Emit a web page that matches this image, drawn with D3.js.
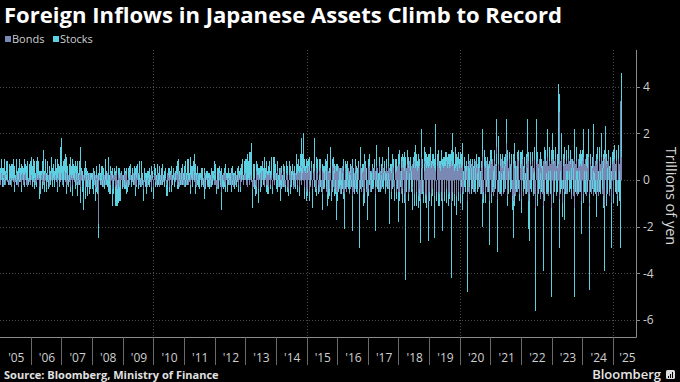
<!DOCTYPE html>
<html><head><meta charset="utf-8">
<script src="https://cdn.jsdelivr.net/npm/d3@7"></script>
<style>html,body{margin:0;padding:0;background:#000;} svg{display:block;}</style>
</head><body><svg id="c" width="680" height="382"></svg>
<script>
const seriesKeys = ["bonds", "stocks"];
const seriesNames = ["Bonds", "Stocks"];
const seriesColors = ["#7a89b4", "#5ccfe0"];
const firstYear = 2005;
// weekly net foreign purchases, trillions of yen, one inner array per calendar year
const bonds = [
/*2005*/[.1,-.2,.3,.1,-.1,.2,-.3,.2,.1,-.2,.3,0,-.1, .2,-.1,.3,-.2,.1,.2,-.3,.1,.3,-.1,.2,-.2,.1, -.1,.3,.2,-.2,.1,-.3,.2,.3,-.1,.1,-.2,.2,.3, -.2,.1,.2,-.1,.3,-.2,.1,.2,-.3,.1,.2,-.1,.2],
/*2006*/[-.2,.2,.1,-.3,.3,-.1,.2,.1,-.2,.3,-.1,.2,.1, .2,-.3,.1,.3,-.2,.2,-.1,.3,.1,-.2,.2,-.1,.3, -.2,.1,.3,-.1,.2,-.3,.1,.2,-.2,.3,.1,-.1,.2, .1,-.2,.3,.2,-.1,.2,-.3,.1,.3,-.2,.2,.1,-.1],
/*2007*/[.3,-.2,.2,.1,-.3,.4,-.1,.2,-.2,.3,.1,-.2,.2, -.1,.3,.2,-.3,.1,.2,-.2,.3,.1,-.1,.2,.3,-.2, .2,-.1,.3,-.2,.1,.2,.4,-.3,.2,.1,-.3,-.2,.2, .1,-.3,.2,.3,-.2,.1,.2,-.3,.1,.3,-.2,.2,.1],
/*2008*/[.2,-.3,.1,.3,-.2,-.4,.2,.1,-.3,.2,-.2,-1.9,.3, .2,-.1,.3,-.2,.2,.3,-.3,.1,.2,-.2,.3,.1,-.2, .3,-.2,.2,-.3,.1,.3,-.2,.2,-.4,.1,.2,-.3,.2, -.3,.2,-.2,.3,-.4,.1,.2,-.3,.1,.3,-.2,.2,.1],
/*2009*/[.2,-.3,.1,.2,-.2,.3,-.1,.2,-.3,.1,.2,-.2,.1, .3,-.2,.1,-.1,.2,.3,-.2,.1,-.3,.2,.1,-.2,.3, -.1,.2,.3,-.2,.1,-.3,.2,.1,-.2,-.4,.3,-.1,.2, .1,-.2,.3,-.3,.2,.1,-.2,.3,-.1,.2,-.3,.1,.2],
/*2010*/[-.3,.2,.3,-.1,.2,-.2,.1,.3,-.2,.2,.1,-.3,.2, .1,-.2,.3,.2,-.1,.2,-.3,.1,.2,-.2,.3,-.1,.2, .2,-.3,.1,.2,-.2,.3,-.1,.2,.1,-.2,.3,.2,-.1, .3,-.2,.2,.4,-.1,.2,-.3,.3,.1,-.2,.2,.3,-.2],
/*2011*/[.2,-.3,.1,.3,-.2,.2,.1,-.2,.3,-.1,.2,-.2,.1, .3,-.2,.2,.4,-.1,.3,-.2,.2,-.3,.1,.2,-.1,.3, -.2,.2,.1,-.3,.2,.3,-.2,.1,-.3,.2,.3,-.2,.1, .2,-.3,.3,.1,-.2,.2,-.3,.2,.1,-.2,.3,.1,-.2],
/*2012*/[.3,-.2,.2,-.3,-.4,.2,.1,-.2,.3,.2,-.3,-.5,.2, .1,-.2,.3,.2,-.1,.3,-.2,.1,.2,-.3,.2,.1,-.2, .2,-.1,.3,-.2,.2,.1,-.3,.2,.3,-.2,.1,.2,-.1, .3,-.2,.2,.1,-.3,.2,.3,-.1,.2,.3,-.2,.3,.2],
/*2013*/[.3,-.2,.4,.2,-.3,.1,.3,-.2,.2,.4,-.1,.3,-.4, .2,-.3,.3,.1,-.2,.4,-.3,.2,.3,-.4,.2,.1,-.3, .3,-.2,.2,.4,-.1,.3,-.3,.2,.1,-.2,.3,.2,-.2, .2,-.3,.3,.1,-.2,.4,.2,-.3,.1,.3,.2,-.2,.3],
/*2014*/[.3,-.4,.2,.4,-.3,.2,-.2,.5,-.4,.3,.1,-.3,.4, .2,-.3,.4,-.2,.3,.5,-.3,.2,-.4,.3,.2,-.2,.4, -.3,.3,.2,-.4,.4,.2,-.3,.3,.5,.2,-.2,.3,.4, .3,-.3,.5,.4,-.2,.6,.3,.7,.5,-.3,.4,.3,-.5],
/*2015*/[.5,-.4,.3,.6,-.5,.4,.2,-.3,.5,-.4,-.5,.3,.4, .6,.4,-.3,.5,-.4,.3,.6,-.2,.4,-.5,.3,.5,-.3, .4,-.6,.5,.3,-.4,.6,.4,-.5,.3,.5,-.6,.4,.3, -.4,.5,.3,-.5,.6,.4,-.3,.5,-.4,.3,.6,-.5,.4],
/*2016*/[-.5,.4,.6,-.4,.5,-.6,.3,.5,-.4,.6,.4,-.5,-.6, .5,.3,-.5,.6,.4,-.3,.5,-.6,.4,.3,-.4,.6,-.7, .5,.4,-.5,.3,.6,-.4,.5,.3,-.6,.4,.5,-.4,-.8, .6,.4,-.5,.5,.3,-.6,.4,.7,-.4,.5,.3,-.5,-.5],
/*2017*/[.5,-.4,.6,.3,-.5,.4,-.3,.5,.6,-.4,.3,.5,-.6, .4,.6,-.3,.5,-.4,.3,.6,-.5,.4,.3,-.4,.5,.6, -.4,.5,.3,-.6,.4,.5,-.3,.4,.6,-.4,.5,-.5,.4, .3,-.5,.6,.4,-.3,.5,-.4,.6,.3,-.5,.4,.6,-.5],
/*2018*/[.6,-.5,.7,.4,-.6,.5,-.4,.8,.5,-.6,.4,-1.0,.6, .5,-.4,.7,-.6,.5,.8,-.5,.4,.6,-.5,.7,-.4,.5, .8,-.6,.5,.7,-.5,.6,.4,-.7,.5,.6,-.4,-.8,1.0, -.6,.7,.5,-.5,.8,.4,-.6,.7,.5,-.7,.6,-.9,.5],
/*2019*/[.6,-.5,.8,.5,-.6,.7,-.4,.6,.5,-.7,.4,.9,-.5, .6,.7,-.5,.8,.5,-.6,.4,.7,-.5,.6,-.8,.5,.6, -.5,.7,.6,-.4,.8,.5,-.6,.7,.5,-.5,.6,-1.0,.8, .6,-.5,.7,.4,-.6,.8,.5,-.7,.6,.4,-.5,.7,.5],
/*2020*/[.7,-.6,.5,.8,.6,-.5,-.6,.5,.7,-.5,.6,.4,-.9, .6,.7,-.5,.8,-.6,.5,.7,-.4,.6,.8,-.5,.6,.5, -.6,.8,.5,-.5,.7,.6,-.4,.8,.5,-.6,.7,.5,-.8, 1.0,-.5,.6,.7,-.6,.5,.8,-.5,.6,.7,-.4,.5,-.9],
/*2021*/[.8,-.6,.7,.9,-.7,.6,.8,-.5,.7,.6,1.4,-.8,-1.0, .7,.9,-.6,.8,.6,-.7,.9,.5,-.6,.8,.7,-.5,.9, .6,1.6,-.7,.8,.5,-.6,.9,.7,-.5,.8,.6,-.7,-.9, .7,-.6,.5,.8,-.7,.6,.9,-.5,.7,.8,-.6,.7,.5],
/*2022*/[.7,-.8,.9,.6,-.7,.8,.5,-.6,.9,.7,-.5,1.0,-.9, .8,-.6,.7,.9,-.5,.6,.8,-.7,.5,.9,-.6,-1.2,.7, 1.1,-.6,.8,.7,-.5,.9,.6,-.8,.7,.5,-.6,.8,-1.1, .9,-.5,.7,.8,-.6,.9,1.0,-.7,.6,.8,-.5,.7,-1.2],
/*2023*/[.8,.9,-.6,.7,.8,-.5,.9,.6,-.7,.8,.5,.7,-.8, 2.9,.8,-.6,.9,.7,-1.0,.6,.8,-.5,.9,.7,-.6,.8, .7,-.6,.9,.8,-.5,.7,.6,-.8,.9,.5,-.7,.8,-1.2, .9,.7,-.6,.8,.5,-.7,.9,.6,-.5,.8,.7,-.9,.6],
/*2024*/[.8,-.6,1.0,.7,-.5,.9,.6,-.7,.8,.5,1.0,-.6,-1.1, .7,.9,-.6,.8,.5,-.7,1.0,.6,-.5,.8,.7,-.6,.9, .6,-.7,.8,.9,-.5,.7,1.0,-.6,.8,.5,-.7,.9,-1.1, 1.0,-.6,.7,.8,-.5,.9,.6,-.7,.8,.5,-.6,-1.0,.7],
/*2025*/[.8,-.6,.9,.7,-.5,.6,.8,-.7,.9,.6,-.5,.7,.8,3.4,1.0]
];
const stocks = [
/*2005*/[.4,.2,.6,-.3,.5,.3,.1,.7,-.2,.4,.5,.2,.3, .6,-.1,.4,.3,.5,-.2,.7,.2,.4,.9,.3,-.3,.5, .2,.6,-.2,.4,.3,.5,-.1,.6,.2,.4,-.3,.5,.3, .5,.2,.7,-.2,.4,.6,.1,.3,.8,-.2,.5,.4,.6],
/*2006*/[.5,.8,-.3,.6,.4,.9,-.4,.7,.3,.5,-.2,.8,.4, .6,-.5,.3,-.6,.4,.2,-.3,.5,.7,1.3,.2,-.4,.6, .3,-.5,.5,.2,-.4,.6,.3,-.2,.4,.7,-.3,.5,.2, .6,.4,-.3,.7,.5,.2,-.2,.8,.4,.6,-.3,.9,1.4],
/*2007*/[1.5,.6,.4,-.3,.8,.5,1.1,.3,-.4,.7,.5,.2,-.3, .6,.4,.8,-.2,.5,.7,-.5,.4,.3,.6,-.4,.5,.2, .4,-.6,.5,.3,-.2,.6,1.0,-.7,.3,-.5,.4,-1.1,-.6, .4,-.5,.6,-.3,.5,-.7,.2,.3,-.4,-.6,.3,-.4,.2],
/*2008*/[-.4,.3,-.6,.2,.4,-.5,-.3,.5,-.2,-.6,.3,-.6,.2, .5,.3,-.2,.6,.4,-.3,.5,.2,-.4,.3,.6,-.2,.4, -.3,1.0,-.5,.2,-.6,.3,-.4,.2,-.7,.4,-.5,-.3,.3, -.8,.2,-.9,.3,-.7,-1.0,.3,-.6,.4,-.9,-.5,.2,-.4],
/*2009*/[-.3,.2,-.4,.3,-.2,.1,-.5,.3,-.2,.4,-.3,.2,.5, .4,.2,-.3,.5,.3,-.2,.6,.2,-.4,.3,.5,-.1,.4, .3,-.4,.5,.2,-.3,.4,.6,-.2,.3,-.5,.2,.4,-.3, .2,.3,-.6,.4,-.2,.3,.5,-.3,.2,.4,-.2,.3,.2],
/*2010*/[-.5,.3,.4,-.2,.3,.2,-.3,.4,.3,-.2,.5,.3,-.2, .4,.3,-.2,.5,.2,-.3,.4,.1,.3,-.5,-.3,-.6,.2, .3,-.2,.4,.2,-.3,.3,.2,-.2,.4,.1,-.3,.2,.4, .3,-.2,.6,.5,-.3,.2,.4,-.2,.3,.5,-.2,.4,.3],
/*2011*/[.4,.6,-.3,.5,.3,.7,-.2,.4,.6,.3,.8,-.4,.5, .3,.6,-.3,.4,1.1,.2,-.4,.5,.3,-.2,.4,.2,-.3, .3,-.4,.2,.5,-.3,.2,.4,-.3,-.5,.3,-.4,.2,.3, -.2,.4,-.3,.2,.3,-.4,.2,.3,-.3,.4,-.2,.3,.2],
/*2012*/[.5,.7,.4,-.3,.4,.3,-.4,.5,.3,-.2,.4,-.8,.3, -.3,.2,-.4,.3,-.2,.4,-.3,.2,-.5,.3,-.2,.4,.3, -.2,.3,.2,-.3,.4,-.2,.3,.1,-.4,.2,.3,-.3,.2, .2,-.3,.4,.3,-.2,.3,.4,.5,.3,.6,.2,.5,.4],
/*2013*/[.6,.8,.5,.9,.4,.7,.9,.5,.6,.8,.4,1.3,-.8, .5,.3,-.4,.6,-.5,.4,-.3,.5,.2,-.6,.3,.4,-.2, .3,.6,-.3,.4,.5,-.2,.3,.8,.4,-.3,.5,.2,-.4, .4,-.3,.5,.3,-.2,.6,.4,-.3,.5,.7,.3,1.0,.4],
/*2014*/[-.4,.3,-.5,.4,.2,-.3,.5,-.2,-.5,.3,-.4,.2,.3, -.3,.4,.2,-.3,.5,.3,-.2,.4,-.3,.5,.3,-.4,.2, .4,-.3,.5,.3,-.2,.4,.3,-.4,.2,.9,-.3,.4,.5, .3,-.4,.6,.3,.5,1.2,.8,1.3,.4,-.5,.5,.3,-.4],
/*2015*/[.4,-.3,.5,.3,-.4,.6,-.2,.4,.3,-.5,-.7,.4,.3, -.3,1.4,-.2,.5,-.3,.4,.3,-.4,.5,.2,-.3,.4,-.2, .3,-.7,-.4,.3,.6,-.3,.5,.8,-.4,.6,-.5,-.8,.2, -.3,.5,1.1,-.4,.3,-.5,.4,.5,-.3,.4,-.6,-1.2,.3],
/*2016*/[-.4,.3,-.5,.4,-.3,.5,-.2,-.6,.3,-.4,.5,-.3,-1.5, .3,-.4,.7,-.3,.4,.5,-.4,.3,-.5,.4,.2,-.3,-1.5, .4,-.3,.5,-.6,.3,.4,-.5,.3,.5,-.4,.3,-.6,-2.1, .8,-.4,.5,-.3,.4,-.5,.3,.4,-.6,.3,-.4,.5,-1.2],
/*2017*/[.4,-.3,.5,-.2,.4,-.5,.3,.2,-.4,.5,-.3,.4,-1.6, -.3,.9,.4,-.4,.3,-.5,.4,.3,-.5,.4,.2,-.3,.4, .3,-.4,.5,.3,-.5,.4,.3,-.4,.8,.3,-.5,-1.4,.3, .4,-.3,.5,-.4,.3,.4,-.5,.3,.4,-.3,.5,-.4,-1.3],
/*2018*/[.5,-.4,.6,-.3,.4,.5,-.6,.3,.5,-.4,.8,-3.3,.4, -.5,.4,.6,-.3,.5,-.4,.3,.6,-.5,.4,-.3,-.9,.5, .4,-.5,1.0,.3,-.6,.5,.4,-.5,.6,.3,-.5,-1.9,1.2, .5,-.6,.4,-.5,.6,.3,-.4,.5,.6,-.5,.4,-1.7,.6],
/*2019*/[.5,-.4,.6,.3,-.5,.4,-.3,.5,.4,-1.8,.6,1.5,-.4, .5,.4,-.6,.5,.3,-.5,.4,.6,-.4,.3,-1.4,.5,.4, -.4,.5,.3,-.6,.4,.5,-.5,.4,.6,-.3,.5,-3.2,.5, 1.4,-.4,.5,.3,-.5,.6,.4,-.8,.5,.6,-.4,.5,.4],
/*2020*/[.5,-.4,.6,-.3,1.0,-.8,.4,.5,-.3,.6,-.5,.4,-3.9, -.5,.4,.6,-.3,.5,.4,-.6,.5,.3,-.4,.6,-.5,.4, .5,-.4,.6,.3,-.5,.4,.6,-.3,.5,.4,-.6,.3,-1.2, 1.2,-.5,.4,.6,-.4,.5,-.3,.6,.4,-.5,.6,.3,-1.9],
/*2021*/[.5,-.4,.6,-.5,.4,-.3,.5,.6,-.4,.5,1.2,-.6,-2.1, 1.2,-.5,.4,-.6,.5,.3,-.5,.6,.4,-.5,.3,.6,-.4, .5,1.0,-.4,.5,-.6,.4,.3,-.5,.6,-.4,.5,-.6,-1.6, .4,-.5,1.1,-.4,.6,-.5,.3,.6,-.4,.5,-.3,.5,.4],
/*2022*/[.5,-.6,.4,-.5,.6,-.4,.5,.3,-.6,.4,.5,1.6,-1.2, .4,-2.0,.5,-.4,.6,-.5,.4,.3,-.6,.5,.4,-4.4,.5, 1.5,-.5,.4,-.6,.5,-.4,.6,.3,-.5,.4,.6,-.5,-2.8, .5,-.4,.6,-.5,.3,-.6,1.2,.4,-.5,.6,.4,-.6,-3.8],
/*2023*/[.5,1.1,-.4,.6,-.5,.4,.5,-.6,.4,-.5,.6,3.4,-2.1, .8,-.5,.4,1.1,-.4,-.6,.5,-.4,-1.2,.5,-.6,.4,.5, -.5,.4,.6,-.5,.4,.6,-.4,.5,-.6,.4,.5,-.4,-3.8, 1.3,-.5,.4,.6,-.5,.4,-.6,.5,.4,-.5,.6,-1.4,.5],
/*2024*/[.5,-.4,1.2,-.5,.4,-.6,.5,.4,-.5,.6,1.2,-.4,-3.6, .4,-.5,.6,-.4,.5,.4,1.4,-.5,.3,-.6,.4,-1.0,.5, -.5,.4,.6,-.5,.4,-.6,1.0,.5,-.4,.6,-.5,.4,-2.8, 1.3,-.5,.4,-.6,.5,.4,-.5,.6,-.4,.5,.4,-1.9,.5],
/*2025*/[.5,-.4,.6,-.5,.4,-.6,.5,-.4,.6,-.5,.4,-.9,-.5,-2.9,3.6]
];
const yTicks = [-6, -4, -2, 0, 2, 4];
const yearLabels = ["'05","'06","'07","'08","'09","'10","'11","'12","'13","'14","'15","'16","'17","'18","'19","'20","'21","'22","'23","'24","'25"];
const gridYears = [2010, 2015, 2020, 2025];
const titleText = "Foreign Inflows in Japanese Assets Climb to Record";
const sourceText = "Source: Bloomberg, Ministry of Finance";
const yAxisTitle = "Trillions of yen";

// build rows
const rows = [];
bonds.forEach((yr, yi) => {
  const n = Math.max(yr.length, (stocks[yi] || []).length);
  for (let w = 0; w < n; w++) {
    rows.push({
      date: new Date(Date.UTC(firstYear + yi, 0, 4 + 7 * w)),
      bonds: yr[w] ?? 0,
      stocks: (stocks[yi] || [])[w] ?? 0
    });
  }
});

const svg = d3.select("#c");
const plotL = 0, plotR = 636, plotT = 50, plotB = 337;

const x = d3.scaleUtc()
  .domain([new Date(Date.UTC(2005, 0, 1)), new Date(Date.UTC(2025, 9, 1))])
  .range([plotL, plotR]);
const y = d3.scaleLinear().domain([-6.73, 5.57]).range([plotB, plotT]);

const font = "'Open Sans', 'Noto Sans', sans-serif";

function fit(el, target) {
  const len = el.node().getComputedTextLength();
  const fs = +el.attr("font-size");
  el.attr("font-size", (fs * target / len).toFixed(2));
}

// gridlines
const grid = svg.append("g");
grid.selectAll("line.h").data(yTicks).join("line")
  .attr("x1", plotL).attr("x2", plotR)
  .attr("y1", d => Math.round(y(d)) + 0.5).attr("y2", d => Math.round(y(d)) + 0.5)
  .attr("stroke", "#4a4a4a").attr("stroke-width", 1).attr("stroke-dasharray", "1,2");
grid.selectAll("line.v").data(gridYears).join("line")
  .attr("x1", d => Math.round(x(new Date(Date.UTC(d, 0, 1)))) + 0.5)
  .attr("x2", d => Math.round(x(new Date(Date.UTC(d, 0, 1)))) + 0.5)
  .attr("y1", plotT).attr("y2", plotB)
  .attr("stroke", "#4a4a4a").attr("stroke-width", 1).attr("stroke-dasharray", "1,2");

// stacked bars
const stack = d3.stack().keys(seriesKeys).offset(d3.stackOffsetDiverging);
const layers = stack(rows);
const bw = 1;
svg.append("g").attr("shape-rendering", "crispEdges")
  .selectAll("g").data(layers).join("g")
  .attr("fill", (d, i) => seriesColors[i])
  .selectAll("rect").data(d => d).join("rect")
  .attr("x", d => Math.floor(x(d.data.date)))
  .attr("width", bw)
  .attr("y", d => y(Math.max(d[0], d[1])))
  .attr("height", d => Math.abs(y(d[0]) - y(d[1])));

// axes lines
const axisColor = "#8a8a8a";
svg.append("line").attr("x1", plotR + 0.5).attr("x2", plotR + 0.5).attr("y1", plotT).attr("y2", plotB + 0.5)
  .attr("stroke", axisColor);
svg.append("line").attr("x1", plotL).attr("x2", plotR + 0.5).attr("y1", plotB + 0.5).attr("y2", plotB + 0.5)
  .attr("stroke", axisColor);

// y ticks
const yt = svg.append("g");
yt.selectAll("line").data(yTicks).join("line")
  .attr("x1", plotR).attr("x2", plotR + 4)
  .attr("y1", d => Math.round(y(d)) + 0.5).attr("y2", d => Math.round(y(d)) + 0.5)
  .attr("stroke", axisColor);
yt.selectAll("text").data(yTicks).join("text")
  .attr("x", plotR + 7).attr("y", d => y(d) + 4.5)
  .attr("fill", "#cfcfcf").attr("font-family", font).attr("font-size", 12)
  .text(d => String(d));

svg.append("text")
  .attr("transform", `translate(666,196) rotate(90)`)
  .attr("text-anchor", "middle")
  .attr("fill", "#d8d8d8").attr("font-family", font).attr("font-size", 14.5)
  .text(yAxisTitle);

// x ticks
const years = d3.range(2006, 2026);
const xt = svg.append("g");
xt.selectAll("line").data(years).join("line")
  .attr("x1", d => Math.round(x(new Date(Date.UTC(d, 0, 1)))) + 0.5)
  .attr("x2", d => Math.round(x(new Date(Date.UTC(d, 0, 1)))) + 0.5)
  .attr("y1", plotB).attr("y2", plotB + 28)
  .attr("stroke", "#6a6a6a");
xt.selectAll("text").data(yearLabels).join("text")
  .attr("x", (d, i) => {
    const yr = firstYear + i;
    const a = x(new Date(Date.UTC(yr, 0, 1))), b = Math.min(x(new Date(Date.UTC(yr + 1, 0, 1))), plotR + 4);
    return (a + b) / 2 + 1;
  })
  .attr("y", 362)
  .attr("text-anchor", "middle")
  .attr("fill", "#cfcfcf").attr("font-family", font).attr("font-size", 12)
  .text(d => d);

// title
const title = svg.append("text").attr("x", 4).attr("y", 23)
  .attr("fill", "#ffffff").attr("font-family", font).attr("font-weight", 700).attr("font-size", 20)
  .text(titleText);
fit(title, 558);

// legend
const lg = svg.append("g");
const legX = [5, 53];
seriesNames.forEach((nm, i) => {
  lg.append("rect").attr("x", legX[i]).attr("y", 36).attr("width", 6).attr("height", 6).attr("fill", seriesColors[i]);
  lg.append("text").attr("x", legX[i] + 7).attr("y", 43)
    .attr("fill", "#cfcfcf").attr("font-family", font).attr("font-size", 11).text(nm);
});

// source
const src = svg.append("text").attr("x", 4).attr("y", 379)
  .attr("fill", "#e0e0e0").attr("font-family", font).attr("font-weight", 700).attr("font-size", 11)
  .text(sourceText);
fit(src, 215);

// Bloomberg logo
svg.append("text").attr("x", 661).attr("y", 379).attr("text-anchor", "end")
  .attr("fill", "#e6e6e6").attr("font-family", font).attr("font-weight", 600).attr("font-size", 13)
  .text("Bloomberg");
const logo = svg.append("g").attr("transform", "translate(666,370)");
logo.append("rect").attr("width", 9).attr("height", 9).attr("rx", 1.5).attr("fill", "#dcdcdc");
[[2, 5], [4, 3], [6, 1]].forEach(([bx, by]) => {
  logo.append("rect").attr("x", bx).attr("y", by + 1).attr("width", 1).attr("height", 7 - by).attr("fill", "#000");
});
</script>
</body></html>
